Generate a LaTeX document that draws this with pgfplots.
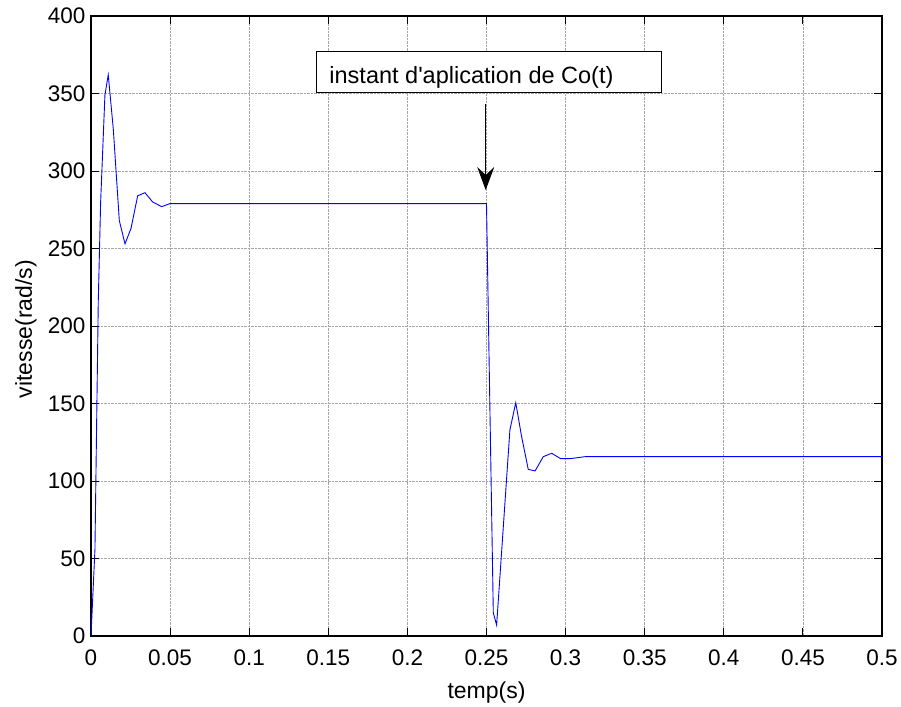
\documentclass[border=0pt]{standalone}
\usepackage{fontspec}
\setmainfont{Liberation Sans}[Ligatures=TeXOff]
\usepackage{pgfplots}
\pgfplotsset{compat=1.18}
\usetikzlibrary{arrows.meta}
\begin{document}
\begin{tikzpicture}
\begin{axis}[
  scale only axis, width=791pt, height=620pt,
  xmin=0, xmax=0.5, ymin=0, ymax=400,
  xtick={0,0.05,0.1,0.15,0.2,0.25,0.3,0.35,0.4,0.45,0.5},
  xticklabels={0,0.05,0.1,0.15,0.2,0.25,0.3,0.35,0.4,0.45,0.5},
  ytick={0,50,100,150,200,250,300,350,400},
  grid=major, grid style={densely dotted, gray!70, line width=0.8pt},
  tick align=inside, tick pos=both, major tick length=8pt,
  axis line style={line width=1.2pt},
  tick style={black, line width=1pt},
  ticklabel style={font=\fontsize{22.5}{26}\selectfont},
  xticklabel style={anchor=base, yshift=-29pt},
  yticklabel style={anchor=east, xshift=-2pt},
  /pgf/number format/assume math mode=true,
  xlabel={temp(s)},
  xlabel style={font=\fontsize{23}{26}\selectfont, at={(axis description cs:0.5,0)}, anchor=base, yshift=-62pt},
  ylabel={vitesse(rad/s)},
  ylabel style={font=\fontsize{23}{26}\selectfont, at={(axis description cs:0,0.495)}, anchor=base, yshift=59pt},
]
\addplot[blue, line width=0.9pt] coordinates {
(0,0) (0.0025,56) (0.0046,216) (0.0061,280) (0.0088,349) (0.0109,362)
(0.0141,327) (0.0179,268) (0.0215,253) (0.0253,263) (0.0295,284) (0.0341,286)
(0.039,280) (0.0447,277) (0.05,279) (0.25,279)
(0.2543,15) (0.2564,7) (0.2648,133) (0.2685,150.5) (0.2722,128.6) (0.2764,107.5)
(0.2807,106.5) (0.2859,115.7) (0.2912,117.9) (0.2969,114.4) (0.3028,114.4)
(0.3123,115.7) (0.5,115.7)
};
\draw[black, line width=0.8pt, fill=white] (axis cs:0.1427,350.9) rectangle (axis cs:0.3607,377);
\node[anchor=base west, inner sep=0pt, font=\fontsize{23.5}{26}\selectfont] at (axis cs:0.1506,356.2) {instant d'aplication de Co(t)};
\draw[black, line width=1pt, -{Stealth[length=23pt,width=17pt,inset=8pt]}] (axis cs:0.2495,343.4) -- (axis cs:0.2495,287.7);
\end{axis}
\path[use as bounding box] (-91pt,-66pt) rectangle (810pt,636pt);
\end{tikzpicture}
\end{document}
